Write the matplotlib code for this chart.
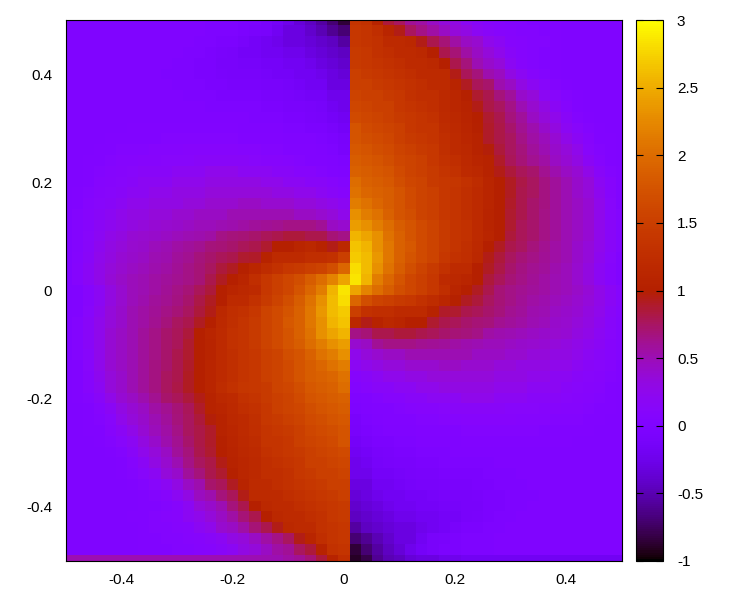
import numpy as np
import matplotlib
matplotlib.use('Agg')
import matplotlib.pyplot as plt
from matplotlib.colors import ListedColormap

x_ticks = [-0.4, -0.2, 0, 0.2, 0.4]
x_tick_labels = ['-0.4', '-0.2', '0', '0.2', '0.4']
y_ticks = [-0.4, -0.2, 0, 0.2, 0.4]
y_tick_labels = ['-0.4', '-0.2', '0', '0.2', '0.4']
cb_ticks = [-1, -0.5, 0, 0.5, 1, 1.5, 2, 2.5, 3]
cb_tick_labels = ['-1', '-0.5', '0', '0.5', '1', '1.5', '2', '2.5', '3']

# cell values, rows from y=0.5 downwards
# x = -0.5 .. 0, y = 0.5 .. 0.02
z_upper_left = [
    [0,0,0,0,0,0,0,0,0,0,0,0,0,-.02,-.02,-.03,-.05,-.05,-.1,-.15,-.25,-.35,-.45,-.55,-.7,-.85],
    [0,0,0,0,0,0,0,0,0,0,0,0,0,-.02,-.03,-.03,-.05,-.08,-.1,-.2,-.3,-.3,-.4,-.5,-.6,-.7],
    [0,0,0,0,0,0,0,0,0,0,0,0,-.02,-.02,-.05,-.05,-.1,-.15,-.2,-.25,-.3,-.3,-.35,-.4,-.45,-.55],
    [0,0,0,0,0,0,0,0,0,0,0,-.02,-.03,-.05,-.08,-.1,-.15,-.15,-.2,-.2,-.25,-.25,-.3,-.35,-.4,-.45],
    [0,0,0,0,0,0,0,0,0,0,-.02,-.03,-.05,-.05,-.1,-.1,-.12,-.12,-.15,-.15,-.2,-.2,-.25,-.3,-.35,-.4],
    [0,0,0,0,0,0,0,0,0,-.02,-.02,-.03,-.05,-.05,-.08,-.1,-.1,-.1,-.12,-.15,-.15,-.2,-.2,-.25,-.3,-.35],
    [0,0,0,0,0,0,0,0,0,0,-.02,-.02,-.03,-.05,-.05,-.08,-.08,-.08,-.1,-.1,-.12,-.15,-.2,-.2,-.3,-.3],
    [0,0,0,0,0,0,0,0,0,0,0,-.02,-.02,-.03,-.05,-.05,-.05,-.05,-.08,-.08,-.1,-.12,-.15,-.15,-.25,-.25],
    [0,0,0,0,0,0,0,0,0,0,0,0,0,-.02,-.02,-.02,-.03,-.03,-.05,-.05,-.08,-.08,-.1,-.12,-.2,-.25],
    [0,0,0,0,0,0,0,0,0,0,0,0,0,0,0,0,0,-.02,-.02,-.03,-.05,-.05,-.08,-.1,-.15,-.2],
    [0,0,0,0,0,0,.02,.02,.02,.02,.03,.03,.03,.02,.02,.02,0,0,0,0,-.02,-.03,-.05,-.05,-.1,-.15],
    [0,0,0,0,.02,.02,.03,.03,.03,.05,.05,.05,.05,.05,.05,.05,.03,.03,.02,.02,0,0,0,-.03,-.05,-.1],
    [0,0,0,.02,.03,.05,.05,.05,.08,.08,.08,.1,.1,.1,.1,.1,.08,.08,.05,.05,.03,.02,.02,0,-.03,-.08],
    [0,0,.02,.03,.05,.08,.08,.1,.1,.12,.12,.12,.15,.15,.15,.15,.15,.12,.1,.1,.08,.05,.03,.02,0,-.03],
    [0,0,.02,.05,.08,.1,.12,.15,.15,.15,.2,.2,.2,.25,.25,.25,.2,.2,.2,.15,.15,.1,.1,.05,.02,0],
    [0,0,.03,.08,.1,.12,.15,.2,.2,.2,.25,.25,.25,.3,.3,.3,.3,.3,.25,.25,.2,.2,.15,.15,.1,.05],
    [0,.02,.05,.1,.12,.15,.2,.2,.25,.25,.3,.3,.3,.35,.35,.35,.35,.35,.35,.3,.3,.25,.25,.2,.15,.1],
    [0,.03,.08,.12,.15,.2,.25,.25,.3,.3,.3,.35,.35,.4,.4,.4,.45,.45,.4,.4,.4,.35,.35,.3,.25,.2],
    [0,.05,.1,.15,.2,.25,.3,.3,.35,.35,.4,.4,.45,.45,.45,.5,.5,.5,.5,.5,.5,.45,.45,.4,.35,.25],
    [0,.05,.1,.18,.22,.28,.32,.35,.38,.4,.42,.45,.48,.48,.5,.52,.55,.58,.6,.62,.65,.65,.65,.6,.45,.4],
    [0,.05,.12,.2,.28,.32,.38,.4,.42,.45,.48,.5,.52,.55,.65,.68,.7,.72,.78,.8,.85,.85,.8,.8,.7,.65],
    [0,.06,.13,.22,.3,.35,.4,.42,.48,.5,.55,.58,.62,.68,.7,.72,.78,.8,.88,1.0,1.0,1.1,1.15,1.05,.95,1.15],
    [0,.07,.15,.25,.32,.38,.42,.45,.5,.52,.58,.62,.68,.72,.78,.8,.88,.9,1.05,1.2,1.2,1.2,1.25,1.25,1.3,1.5],
    [0,.08,.18,.28,.35,.4,.45,.48,.52,.55,.6,.65,.7,.75,.85,.92,1.02,1.12,1.22,1.3,1.4,1.45,1.5,1.55,1.7,1.95],
    [0,.08,.18,.28,.36,.43,.47,.5,.55,.58,.62,.65,.7,.8,.92,1.0,1.1,1.25,1.4,1.5,1.6,1.7,1.85,2.0,2.2,2.45],
]
# x = 0.02 .. 0.5, y = 0.5 .. 0.02
z_upper_right = [
    [1.35,1.3,1.05,.85,.75,.6,.55,.45,.35,.3,.2,.15,.1,.08,.05,.05,.03,.03,.02,0,0,0,0,0,0],
    [1.4,1.35,1.25,1.1,.95,.75,.65,.55,.45,.35,.3,.2,.15,.1,.08,.05,.05,.03,.02,0,0,0,0,0,0],
    [1.4,1.35,1.3,1.2,1.2,1.15,.95,.8,.7,.55,.45,.4,.25,.2,.1,.08,.05,.05,.03,0,0,0,0,0,0],
    [1.45,1.4,1.3,1.25,1.2,1.2,1.15,1.0,.8,.7,.55,.45,.35,.25,.15,.08,.05,.03,.02,0,0,0,0,0,0],
    [1.45,1.4,1.35,1.3,1.25,1.2,1.2,1.15,1.0,.8,.68,.5,.42,.35,.2,.1,.05,.03,.02,0,0,0,0,0,0],
    [1.5,1.45,1.4,1.35,1.3,1.25,1.2,1.2,1.2,.95,.78,.68,.52,.46,.3,.2,.1,.05,.02,0,0,0,0,0,0],
    [1.5,1.5,1.45,1.4,1.35,1.3,1.25,1.2,1.2,1.08,.92,.78,.72,.52,.45,.3,.2,.12,.05,.02,0,0,0,0,0],
    [1.55,1.5,1.5,1.45,1.4,1.3,1.25,1.25,1.18,1.12,1.02,.88,.8,.68,.58,.42,.35,.2,.12,.05,.02,0,0,0,0],
    [1.6,1.55,1.5,1.5,1.4,1.35,1.3,1.25,1.18,1.12,1.05,.95,.82,.75,.65,.5,.4,.3,.18,.08,.03,0,0,0,0],
    [1.65,1.6,1.55,1.5,1.45,1.4,1.35,1.3,1.2,1.15,1.08,1.0,.88,.8,.68,.58,.45,.35,.25,.15,.05,.02,0,0,0],
    [1.75,1.65,1.6,1.55,1.5,1.4,1.35,1.35,1.22,1.18,1.1,1.02,.9,.82,.72,.62,.52,.42,.32,.2,.12,.05,.02,0,0],
    [1.75,1.7,1.65,1.6,1.5,1.45,1.4,1.35,1.25,1.2,1.12,1.05,.9,.82,.75,.65,.55,.48,.38,.28,.18,.1,.03,.02,0],
    [1.8,1.75,1.7,1.65,1.55,1.5,1.45,1.4,1.28,1.2,1.15,1.05,.98,.85,.75,.68,.58,.5,.42,.35,.25,.12,.05,.02,0],
    [1.85,1.8,1.75,1.7,1.6,1.55,1.5,1.4,1.3,1.25,1.18,1.1,1.05,.9,.78,.7,.62,.55,.45,.38,.3,.18,.08,.03,.01],
    [1.9,1.85,1.8,1.75,1.65,1.55,1.5,1.45,1.35,1.3,1.2,1.15,1.05,.95,.85,.78,.72,.62,.52,.45,.38,.28,.15,.05,.02],
    [2.0,1.9,1.85,1.8,1.7,1.6,1.55,1.45,1.4,1.38,1.3,1.22,1.1,1.0,.92,.82,.75,.67,.58,.5,.42,.35,.2,.1,.03],
    [2.05,1.95,1.9,1.85,1.75,1.65,1.55,1.5,1.4,1.35,1.28,1.2,1.1,1.0,.92,.8,.75,.67,.58,.5,.42,.35,.22,.1,.03],
    [2.15,2.05,1.95,1.85,1.75,1.65,1.55,1.5,1.4,1.35,1.28,1.2,1.1,1.0,.9,.8,.73,.67,.58,.5,.45,.38,.25,.12,.03],
    [2.3,2.15,2.05,1.9,1.75,1.7,1.55,1.5,1.4,1.35,1.28,1.2,1.08,1.0,.88,.8,.72,.65,.58,.5,.45,.38,.25,.12,.05],
    [2.4,2.3,2.15,2.0,1.85,1.75,1.65,1.55,1.45,1.35,1.3,1.2,1.08,1.0,.88,.78,.72,.65,.58,.5,.45,.38,.25,.15,.05],
    [2.55,2.45,2.3,2.05,1.9,1.75,1.65,1.55,1.45,1.35,1.3,1.2,1.1,1.0,.85,.78,.72,.65,.58,.5,.45,.38,.25,.15,.05],
    [2.65,2.55,2.3,2.1,1.9,1.8,1.65,1.55,1.45,1.35,1.28,1.18,1.0,.92,.8,.75,.68,.62,.55,.5,.42,.35,.25,.15,.05],
    [2.7,2.6,2.35,2.1,1.9,1.75,1.65,1.55,1.4,1.3,1.25,1.15,.95,.85,.75,.7,.65,.6,.55,.5,.42,.35,.22,.12,.03],
    [2.8,2.6,2.3,2.05,1.85,1.7,1.55,1.45,1.3,1.2,1.2,1.0,.92,.82,.72,.67,.62,.58,.52,.47,.4,.32,.2,.1,.03],
    [2.85,2.55,2.15,1.95,1.75,1.6,1.5,1.4,1.2,1.15,1.1,1.0,.85,.78,.7,.65,.6,.55,.5,.47,.4,.32,.2,.1,.03],
]
# x = -0.5 .. 0, y = 0 .. -0.5
z_lower_left = [
    [0,.03,.1,.2,.32,.4,.47,.5,.55,.6,.65,.7,.78,.85,1.0,1.1,1.15,1.2,1.4,1.5,1.6,1.75,1.95,2.15,2.55,2.85],
    [0,.03,.1,.2,.32,.4,.47,.52,.58,.62,.67,.72,.82,.92,1.0,1.2,1.2,1.3,1.45,1.55,1.7,1.85,2.05,2.3,2.6,2.8],
    [0,.03,.12,.22,.35,.42,.5,.55,.6,.65,.7,.75,.85,.95,1.15,1.25,1.3,1.4,1.55,1.65,1.75,1.9,2.1,2.35,2.6,2.7],
    [0,.05,.15,.25,.35,.42,.5,.55,.62,.68,.75,.8,.92,1.0,1.18,1.28,1.35,1.45,1.55,1.65,1.8,1.9,2.1,2.3,2.55,2.65],
    [0,.05,.15,.25,.38,.45,.5,.58,.65,.72,.78,.85,1.0,1.1,1.2,1.3,1.35,1.45,1.55,1.65,1.75,1.9,2.05,2.3,2.45,2.55],
    [0,.05,.15,.25,.38,.45,.5,.58,.65,.72,.78,.88,1.0,1.08,1.2,1.3,1.35,1.45,1.55,1.65,1.75,1.85,2.0,2.15,2.3,2.4],
    [0,.05,.12,.25,.38,.45,.5,.58,.65,.72,.8,.88,1.0,1.08,1.2,1.28,1.35,1.4,1.5,1.55,1.7,1.75,1.9,2.05,2.15,2.3],
    [0,.03,.12,.25,.38,.45,.5,.58,.67,.73,.8,.9,1.0,1.1,1.2,1.28,1.35,1.4,1.5,1.55,1.65,1.75,1.85,1.95,2.05,2.15],
    [0,.03,.1,.22,.35,.42,.5,.58,.67,.75,.8,.92,1.0,1.1,1.2,1.28,1.35,1.4,1.5,1.55,1.65,1.75,1.85,1.9,1.95,2.05],
    [0,.03,.1,.2,.35,.42,.5,.58,.67,.75,.82,.92,1.0,1.1,1.22,1.3,1.38,1.4,1.45,1.55,1.6,1.7,1.8,1.85,1.9,2.0],
    [0,.02,.05,.15,.28,.38,.45,.52,.62,.72,.78,.85,.95,1.05,1.15,1.2,1.3,1.35,1.45,1.5,1.55,1.65,1.75,1.8,1.85,1.9],
    [0,.01,.03,.08,.18,.3,.38,.45,.55,.62,.7,.78,.9,1.05,1.1,1.18,1.25,1.3,1.4,1.5,1.55,1.6,1.7,1.75,1.8,1.85],
    [0,0,.02,.05,.12,.25,.35,.42,.5,.58,.68,.75,.85,.98,1.05,1.15,1.2,1.28,1.4,1.45,1.5,1.55,1.65,1.7,1.75,1.8],
    [0,0,.02,.03,.1,.18,.28,.38,.48,.55,.65,.75,.82,.9,1.05,1.12,1.2,1.25,1.35,1.4,1.45,1.5,1.6,1.65,1.7,1.75],
    [0,0,0,.02,.05,.12,.2,.32,.42,.52,.62,.72,.82,.9,1.02,1.1,1.18,1.22,1.35,1.35,1.4,1.5,1.55,1.6,1.65,1.75],
    [0,0,0,0,.02,.05,.15,.25,.35,.45,.58,.68,.8,.88,1.0,1.08,1.15,1.2,1.3,1.35,1.4,1.45,1.5,1.55,1.6,1.65],
    [0,0,0,0,0,.03,.08,.18,.3,.4,.5,.65,.75,.82,.95,1.05,1.12,1.18,1.25,1.3,1.35,1.4,1.5,1.5,1.55,1.6],
    [0,0,0,0,0,.02,.05,.12,.2,.35,.42,.58,.68,.8,.88,1.02,1.12,1.18,1.25,1.25,1.3,1.4,1.45,1.5,1.5,1.55],
    [0,0,0,0,0,0,.02,.05,.12,.2,.3,.45,.52,.72,.78,.92,1.08,1.2,1.2,1.25,1.3,1.35,1.4,1.45,1.5,1.5],
    [0,0,0,0,0,0,0,.02,.05,.1,.2,.3,.46,.52,.68,.78,.95,1.2,1.2,1.2,1.25,1.3,1.35,1.4,1.45,1.5],
    [0,0,0,0,0,0,0,.02,.03,.05,.1,.2,.35,.42,.5,.68,.8,1.0,1.15,1.2,1.2,1.25,1.3,1.35,1.4,1.45],
    [0,0,0,0,0,0,.02,.03,.05,.08,.1,.2,.25,.35,.45,.55,.7,.8,1.0,1.15,1.2,1.2,1.25,1.3,1.4,1.45],
    [0,0,0,0,0,0,0,.03,.05,.05,.08,.1,.2,.25,.4,.45,.55,.7,.8,.95,1.15,1.2,1.2,1.3,1.35,1.4],
    [0,0,0,0,0,0,0,.02,.03,.05,.05,.08,.1,.15,.2,.3,.35,.45,.55,.65,.75,.95,1.1,1.25,1.35,1.4],
    [0,0,0,0,0,0,0,.02,.03,.03,.05,.05,.08,.1,.15,.2,.3,.35,.45,.55,.6,.75,.85,1.05,1.3,1.35],
    [.5,.5,.5,.5,.5,.5,.5,.5,.5,.5,.5,.5,.5,.5,.5,.5,.5,.5,.5,.5,.55,.6,.7,.85,1.05,1.25],
]
# x = 0.02 .. 0.5, y = 0 .. -0.5
z_lower_right = [
    [2.45,2.2,2.0,1.85,1.7,1.6,1.5,1.4,1.25,1.1,1.0,.92,.8,.7,.65,.62,.58,.55,.5,.47,.43,.36,.28,.18,.08],
    [1.95,1.7,1.55,1.5,1.45,1.4,1.3,1.22,1.12,1.02,.92,.85,.75,.7,.65,.6,.55,.52,.48,.45,.4,.35,.28,.18,.08],
    [1.5,1.3,1.25,1.25,1.2,1.2,1.2,1.05,.9,.88,.8,.78,.72,.68,.62,.58,.52,.5,.45,.42,.38,.32,.25,.15,.07],
    [1.15,.95,1.05,1.15,1.1,1.0,1.0,.88,.8,.78,.72,.7,.68,.62,.58,.55,.5,.48,.42,.4,.35,.3,.22,.13,.06],
    [.65,.7,.8,.8,.85,.85,.8,.78,.72,.7,.68,.65,.55,.52,.5,.48,.45,.42,.4,.38,.32,.28,.2,.12,.05],
    [.4,.45,.6,.65,.65,.65,.62,.6,.58,.55,.52,.5,.48,.48,.45,.42,.4,.38,.35,.32,.28,.22,.18,.1,.05],
    [.25,.35,.4,.45,.45,.5,.5,.5,.5,.5,.5,.45,.45,.45,.4,.4,.35,.35,.3,.3,.25,.2,.15,.1,.05],
    [.2,.25,.3,.35,.35,.4,.4,.4,.45,.45,.4,.4,.4,.35,.35,.3,.3,.3,.25,.25,.2,.15,.12,.08,.03],
    [.1,.15,.2,.25,.25,.3,.3,.35,.35,.35,.35,.35,.35,.3,.3,.3,.25,.25,.2,.2,.15,.12,.1,.05,.02],
    [.05,.1,.15,.15,.2,.2,.25,.25,.3,.3,.3,.3,.3,.25,.25,.25,.2,.2,.2,.15,.12,.1,.08,.03,0],
    [0,.02,.05,.1,.1,.15,.15,.2,.2,.2,.25,.25,.25,.2,.2,.2,.15,.15,.15,.12,.1,.08,.05,.02,0],
    [-.03,0,.02,.03,.05,.08,.1,.1,.12,.15,.15,.15,.15,.15,.12,.12,.12,.1,.1,.08,.08,.05,.03,.02,0],
    [-.08,-.03,0,.02,.02,.03,.05,.05,.08,.08,.1,.1,.1,.1,.1,.08,.08,.08,.05,.05,.05,.03,.02,0,0],
    [-.1,-.05,-.03,0,0,0,.02,.02,.03,.03,.05,.05,.05,.05,.05,.05,.05,.03,.03,.03,.02,.02,0,0,0],
    [-.15,-.1,-.05,-.05,-.03,-.02,0,0,0,0,.02,.02,.02,.03,.03,.03,.02,.02,.02,.02,0,0,0,0,0],
    [-.2,-.15,-.1,-.08,-.05,-.05,-.03,-.02,-.02,0,0,0,0,0,0,0,0,0,0,0,0,0,0,0,0],
    [-.25,-.2,-.12,-.1,-.08,-.08,-.05,-.05,-.03,-.03,-.02,-.02,-.02,0,0,0,0,0,0,0,0,0,0,0,0],
    [-.25,-.25,-.15,-.15,-.12,-.1,-.08,-.08,-.05,-.05,-.05,-.05,-.03,-.02,-.02,0,0,0,0,0,0,0,0,0,0],
    [-.3,-.3,-.2,-.2,-.15,-.12,-.1,-.1,-.08,-.08,-.08,-.05,-.05,-.03,-.02,-.02,0,0,0,0,0,0,0,0,0],
    [-.35,-.3,-.25,-.2,-.2,-.15,-.15,-.12,-.1,-.1,-.1,-.08,-.05,-.05,-.03,-.02,-.02,0,0,0,0,0,0,0,0],
    [-.4,-.35,-.3,-.25,-.2,-.2,-.15,-.15,-.12,-.12,-.1,-.1,-.05,-.05,-.03,-.02,0,0,0,0,0,0,0,0,0],
    [-.45,-.4,-.35,-.3,-.25,-.25,-.2,-.2,-.15,-.15,-.1,-.08,-.05,-.03,-.02,0,0,0,0,0,0,0,0,0,0],
    [-.55,-.45,-.4,-.35,-.3,-.3,-.25,-.2,-.15,-.1,-.05,-.05,-.02,-.02,0,0,0,0,0,0,0,0,0,0,0],
    [-.7,-.6,-.5,-.4,-.3,-.3,-.2,-.1,-.08,-.05,-.03,-.03,-.02,0,0,0,0,0,0,0,0,0,0,0,0],
    [-.85,-.7,-.55,-.45,-.35,-.25,-.15,-.1,-.05,-.05,-.03,-.02,-.02,0,0,0,0,0,0,0,0,0,0,0,0],
    [-.9,-.8,-.6,-.5,-.45,-.35,-.3,-.3,-.25,-.25,-.2,-.2,-.2,-.2,-.2,-.2,-.2,-.2,-.2,-.2,-.2,-.2,-.2,-.2,-.2],
]

plt.rcParams['font.family'] = ['Liberation Sans', 'DejaVu Sans']
plt.rcParams['font.size'] = 11

# gnuplot default pm3d palette (rgbformulae 7,5,15)
t = np.linspace(0, 1, 256)
palette = ListedColormap(np.column_stack([np.sqrt(t), t**3, np.clip(np.sin(2*np.pi*t), 0, 1)]))

z = np.block([[np.array(z_upper_left), np.array(z_upper_right)],
              [np.array(z_lower_left), np.array(z_lower_right)]])
x_edges = np.linspace(-0.51, 0.51, z.shape[1] + 1)
y_edges = np.linspace(0.51, -0.508, z.shape[0] + 1)

fig = plt.figure(figsize=(7.5, 6), dpi=100)
ax = fig.add_axes([66/750, 1 - 561/600, 556/750, 541/600])
mesh = ax.pcolormesh(x_edges, y_edges, z, cmap=palette, vmin=-1, vmax=3, shading='flat',
                     antialiased=False, linewidth=0)
ax.set_xlim(-0.5, 0.5)
ax.set_ylim(-0.5, 0.5)
ax.set_xticks(x_ticks, x_tick_labels)
ax.set_yticks(y_ticks, y_tick_labels)
ax.tick_params(length=0, pad=9)
ax.tick_params(axis='y', pad=10)

cax = fig.add_axes([636/750, 1 - 561/600, 27/750, 541/600])
cbar = fig.colorbar(mesh, cax=cax)
cbar.set_ticks(cb_ticks, labels=cb_tick_labels)
cax.tick_params(direction='in', left=True, right=True, length=5, width=0.8, pad=10)
cax.minorticks_off()

fig.savefig('out.png', dpi=100)
